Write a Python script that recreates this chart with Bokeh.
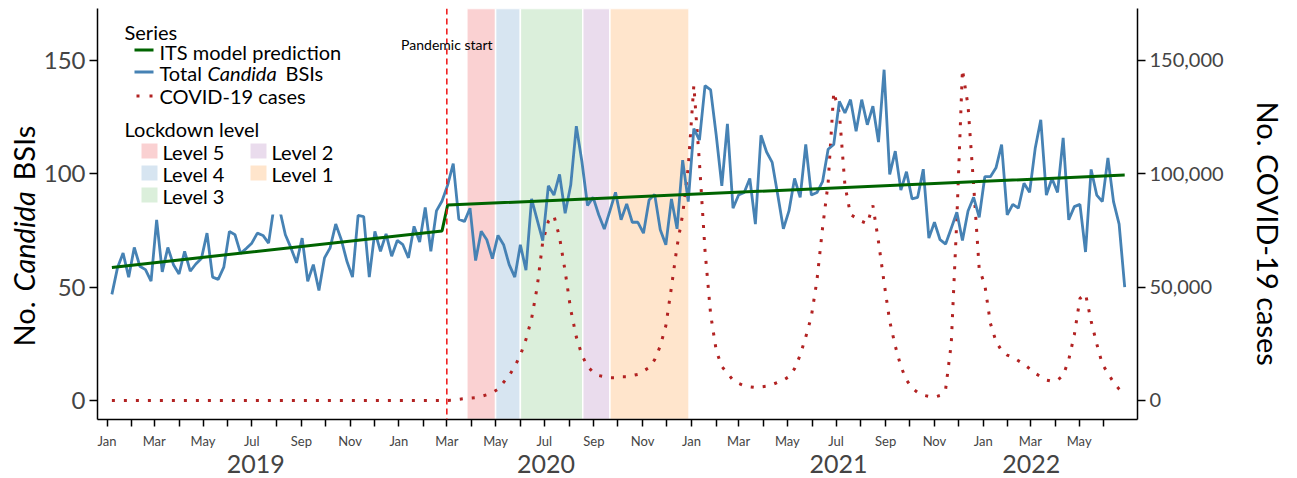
import math
import pandas as pd
from bokeh.plotting import figure
from bokeh.layouts import row
from bokeh.models import (Range1d, LinearAxis, DatetimeAxis, FixedTicker, NumeralTickFormatter,
                          Span, Label, BoxAnnotation, ColumnDataSource)
from bokeh.embed import file_html
from bokeh.resources import INLINE

# ---------------- data ----------------
week_start = "2019-01-07"
n_weeks = 182

candida_bsis = [
    46.8, 58.5, 65, 54.4, 67.5, 59.2, 57.7, 52.6, 79.7, 56.7, 67.5, 59.9, 55.8, 65.8, 57, 60.2,
    62.6, 73.8, 54.4, 53.4, 58.8, 74.6, 73.1, 64.9, 67, 69.4, 73.8, 72.8, 69.4, 86, 84, 73.1,
    67.3, 60.7, 71.6, 52.6, 59.9, 48.5, 62.9, 67.3, 77.8, 70.9, 61.4, 54.4, 81.6, 81.1,
    54.4, 74.6, 65.8, 73.5, 63.6, 70.6, 68.7, 62.9, 76.8, 69.9, 85.1, 65.8, 83.6, 88, 95, 104.5,
    80, 78.9, 84.8, 61.7, 74.6, 70.9, 62.6, 72.8, 68.7, 59.9, 54.4, 68.7, 57.5, 88.9, 79.7, 70.5,
    94.7, 90.6, 99.7, 82.6, 95, 121, 105.3, 86, 89.6, 81.9, 75.6, 83.6, 91.8, 79.7, 86.7,
    78.6, 78.6, 73.8, 88.4, 90.9, 75.3, 68.7, 88.9, 75.7, 106, 87.7, 119.9, 114.8, 138.9, 137, 117,
    94.7, 122, 84.8, 90.6, 91.7, 97.9, 77.8, 117, 109.6, 105, 90.6, 75.7, 83.6, 97.9, 89.6, 112.9,
    90.6, 91.7, 96.5, 110.8, 112.9, 131.9, 126.8, 132.7, 118.7, 132.7, 121.6, 129.8, 114, 145.9, 99.7,
    110, 92.8, 100.9, 88.9, 89.6, 102, 71.6, 78.6, 70.9, 69, 76, 83, 70.6, 83.6, 89.6, 80.8,
    98.7, 98.7, 102.6, 112.9, 81.9, 86.5, 84.8, 95.8, 91.8, 111.1, 123.8, 90.6, 97.9, 91.8, 115.8, 79.7,
    85.5, 86.5, 65.5, 101.9, 90.6, 87.7, 107, 87.7, 77.8, 50,
]

covid_thousands = [0] * 60 + [
    0, 0.1, 0.5, 0.8, 1.0, 1.2, 1.8, 2.5, 3.5, 5, 8, 11, 15, 20, 27, 36, 50, 70, 79, 81.5,
    72, 57, 40, 28, 20, 15, 12.5, 11, 10.5, 10, 10, 10.5, 10.5, 11, 11.5, 13, 14.5, 18, 24, 33,
    50, 68, 82, 103, 139, 105, 66, 38, 22, 15, 12, 9, 7.5, 6.5, 6, 5.7, 6, 6.3, 7, 8,
    9, 10.5, 14, 20, 28, 37, 53, 76, 96, 136, 127, 95, 82, 80.5, 79, 78, 86, 70, 52, 35,
    24, 15, 9, 5.5, 3.5, 2.3, 1.8, 1.5, 2.2, 5, 25, 80, 146, 130, 95, 58, 51, 34, 26, 22,
    20, 19, 17.5, 16, 14, 12, 10.5, 9, 8.5, 9, 11, 18, 29, 45, 47, 35, 25, 16, 12, 8,
    5, 2.5,
]

its_dates = ["2019-01-07", "2020-02-24", "2020-03-02", "2022-06-27"]
its_values = [58.7, 74.8, 86.2, 99.4]

pandemic_start = "2020-03-01"

lockdown_levels = ["Level 5", "Level 4", "Level 3", "Level 2", "Level 1"]
lockdown_starts = ["2020-03-26", "2020-05-01", "2020-06-01", "2020-08-18", "2020-09-21"]
lockdown_ends = ["2020-05-01", "2020-06-01", "2020-08-18", "2020-09-21", "2020-12-29"]
lockdown_colors = ["#E41A1C", "#377EB8", "#4DAF4A", "#984EA3", "#FF7F00"]

left_ticks = [0, 50, 100, 150]
right_ticks = [0, 50000, 100000, 150000]
year_labels = ["2019", "2020", "2021", "2022"]
year_label_dates = ["2019-07-06", "2020-07-03", "2021-07-04", "2022-03-02"]
month_starts = pd.date_range("2019-01-01", "2022-06-01", freq="MS")

# ---------------- helpers ----------------
def ms(d):
    return float(pd.Timestamp(d).value // 10**6)

dates = pd.date_range(week_start, periods=n_weeks, freq="7D")
covid_cases = [v * 1000 for v in covid_thousands]

FONT = "Lato"
BLUE = "#4682B4"
GREEN = "#006400"
COVID = "#B22222"
PAND = "#EE1111"

H = 478
LABW = 40                       # left strip holding the y-axis title
FRAME_L, FRAME_T, FRAME_B, FRAME_R = 96, 8, 419, 1137
RBORDER = 90
MAIN_W = FRAME_R - LABW + RBORDER
RLABW = 1297 - LABW - MAIN_W    # right strip holding the secondary axis title

Y0, Y1 = -8.4, 172.9
p = figure(width=MAIN_W, height=H, x_axis_type="datetime",
           x_range=Range1d(ms("2018-12-20"), ms("2022-07-13")),
           y_range=Range1d(Y0, Y1),
           output_backend="svg", toolbar_location=None,
           min_border_left=FRAME_L - LABW, min_border_right=RBORDER,
           min_border_top=FRAME_T, min_border_bottom=H - FRAME_B)
p.extra_y_ranges = {"covid": Range1d(Y0 * 1000, Y1 * 1000)}
p.outline_line_color = None
p.xgrid.visible = False
p.ygrid.visible = False

# lockdown bands
band_src = ColumnDataSource(dict(
    left=[ms(d) for d in lockdown_starts], right=[ms(d) for d in lockdown_ends],
    color=lockdown_colors))
p.quad(left="left", right="right", bottom=Y0, top=Y1, source=band_src,
       fill_color="color", fill_alpha=0.2, line_color="white", line_width=1.5)

src = ColumnDataSource(dict(date=dates, candida=candida_bsis, covid=covid_cases))
p.line("date", "covid", source=src, y_range_name="covid", line_color=COVID,
       line_width=3, line_dash="3 9")
p.line("date", "candida", source=src, line_color=BLUE, line_width=2.8)
p.line(x=pd.to_datetime(its_dates), y=its_values, line_color=GREEN, line_width=3)

p.add_layout(Span(location=ms(pandemic_start), dimension="height", line_color=PAND,
                  line_width=1.5, line_dash="6 4"))

def style_axis(ax, size):
    ax.major_label_text_font = FONT
    ax.major_label_text_font_size = size
    ax.major_tick_in = 0
    ax.minor_tick_out = 0
    ax.minor_tick_in = 0
    ax.axis_line_width = 1.5
    ax.major_tick_line_width = 1.5

la = p.yaxis[0]
la.ticker = FixedTicker(ticks=left_ticks)
style_axis(la, "24px")
la.major_tick_out = 8
la.major_label_standoff = 4

ra = LinearAxis(y_range_name="covid", ticker=FixedTicker(ticks=right_ticks),
                formatter=NumeralTickFormatter(format="0,0"))
style_axis(ra, "20px")
ra.major_tick_out = 8
ra.major_label_standoff = 4
p.add_layout(ra, "right")

xa = p.xaxis[0]
month_ms = [ms(d) for d in month_starts]
xa.ticker = FixedTicker(ticks=month_ms)
xa.major_label_overrides = {m: (d.strftime("%b") if d.month % 2 == 1 else "")
                            for m, d in zip(month_ms, month_starts)}
style_axis(xa, "13px")
xa.major_tick_out = 7
xa.major_label_standoff = 6

year_ms = [ms(d) for d in year_label_dates]
ya = DatetimeAxis(ticker=FixedTicker(ticks=year_ms))
ya.major_label_overrides = dict(zip(year_ms, year_labels))
ya.major_label_text_font = FONT
ya.major_label_text_font_size = "25px"
ya.axis_line_color = None
ya.major_tick_line_color = None
ya.minor_tick_line_color = None
ya.major_tick_out = 0
ya.major_tick_in = 0
ya.minor_tick_out = 0
ya.major_label_standoff = 3
p.add_layout(ya, "below")

# ---------------- manual annotations (page pixel layout) ----------------
def sx(X):
    return X - FRAME_L

def sy(Y):
    return FRAME_B - Y

def add_text(fig, X, Y, txt, size, style="normal", align="left", angle=0.0, xdata=None):
    kw = dict(text=txt, text_font=FONT, text_font_size=f"{size}px", text_font_style=style,
              text_align=align, text_baseline="middle", angle=angle, text_color="black",
              y=sy(Y), y_units="screen")
    if xdata is None:
        kw.update(x=sx(X), x_units="screen")
    else:
        kw.update(x=xdata, x_units="data")
    fig.add_layout(Label(**kw))

def add_box(X0, Y0_, X1, Y1_, color, alpha=1.0):
    p.add_layout(BoxAnnotation(left=sx(X0), right=sx(X1), top=sy(Y0_), bottom=sy(Y1_),
                               left_units="screen", right_units="screen",
                               top_units="screen", bottom_units="screen",
                               fill_color=color, fill_alpha=alpha, line_color=None,
                               level="annotation"))

# legend background
add_box(99, 9, 345, 214, "white")

LEG = 20
add_text(p, 123, 31, "Series", LEG)
add_box(133, 48, 152, 51, GREEN)
add_text(p, 158, 51, "ITS model prediction", LEG)
add_box(133, 70, 152, 73, BLUE)
add_text(p, 158, 72, "Total", LEG)
add_text(p, 206, 72, "Candida", LEG, style="italic")
add_text(p, 284, 72, "BSIs", LEG)
add_box(135, 94, 138, 97, COVID)
add_box(148, 94, 151, 97, COVID)
add_text(p, 158, 95, "COVID-19 cases", LEG)
add_text(p, 123, 128, "Lockdown level", LEG)
sw_pos = [(140, 143), (140, 165), (140, 187), (249, 143), (249, 165)]
for lev, col, (bx, by) in zip(lockdown_levels, lockdown_colors, sw_pos):
    add_box(bx, by, bx + 16, by + 15, col, 0.2)
    add_text(p, bx + 21, by + 8, lev, LEG)

# pandemic start label
add_text(p, 0, 44, "Pandemic start", 14, align="center", xdata=ms(pandemic_start))

def strip(width):
    f = figure(width=width, height=H, x_range=Range1d(0, 1), y_range=Range1d(0, 1),
               x_axis_location=None, y_axis_location=None,
               output_backend="svg", toolbar_location=None,
               min_border_left=0, min_border_right=0, min_border_top=0, min_border_bottom=0)
    f.outline_line_color = None
    f.xgrid.visible = False
    f.ygrid.visible = False
    return f

# The strips' frames are aligned with the main frame (rows align frames), so their
# screen y is measured from the main frame's bottom edge.

# ---------------- left strip: y-axis title with italic genus name ----------------
lab = strip(LABW)
for txt, ystart, st in [("No.", 346, "normal"), ("Candida", 291, "italic"), ("BSIs", 180, "normal")]:
    lab.add_layout(Label(x=23, y=FRAME_B - ystart, x_units="screen", y_units="screen", text=txt,
                         text_font=FONT, text_font_size="29px", text_font_style=st,
                         text_align="left", text_baseline="middle", angle=math.pi / 2,
                         text_color="black"))

# ---------------- right strip: secondary axis title ----------------
rlab = strip(RLABW)
rlab.add_layout(Label(x=1268 - (LABW + MAIN_W), y=FRAME_B - 101, x_units="screen", y_units="screen",
                      text="No. COVID-19 cases", text_font=FONT, text_font_size="29px",
                      text_align="left", text_baseline="middle", angle=-math.pi / 2,
                      text_color="black"))

layout = row(lab, p, rlab)
open("out.html", "w").write(file_html(layout, INLINE))
